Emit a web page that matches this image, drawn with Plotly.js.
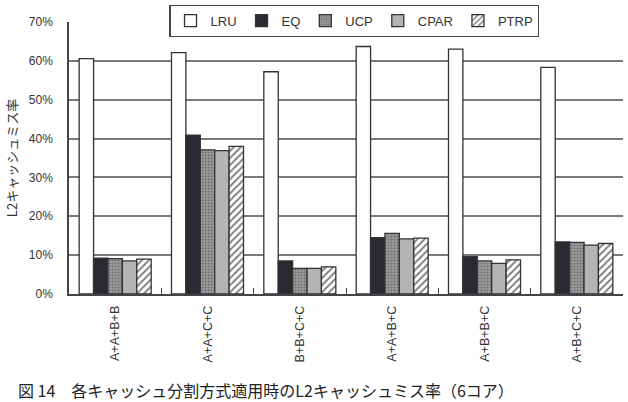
<!DOCTYPE html>
<html><head><meta charset="utf-8">
<script src="https://cdn.plot.ly/plotly-3.0.1.min.js"></script>
<style>html,body{margin:0;padding:0;background:#fff}#chart{width:628px;height:402px}</style>
</head><body><div id="chart"></div>
<script>
const categories = ["A+A+B+B","A+A+C+C","B+B+C+C","A+A+B+C","A+B+B+C","A+B+C+C"];
const LRU  = [60.6, 62.1, 57.2, 63.7, 63.0, 58.3];
const EQ   = [9.2, 40.9, 8.5, 14.5, 9.6, 13.4];
const UCP  = [9.1, 37.1, 6.6, 15.6, 8.5, 13.3];
const CPAR = [8.5, 36.9, 6.6, 14.2, 7.9, 12.6];
const PTRP = [9.0, 38.0, 7.0, 14.4, 8.8, 13.0];
const yTickVals = [0,10,20,30,40,50,60,70];
const yTickText = ["0%","10%","20%","30%","40%","50%","60%","70%"];
const yTitle = "L2キャッシュミス率";
const caption = "図 14　各キャッシュ分割方式適用時のL2キャッシュミス率（6コア）";

const line = {color:'#333333', width:1.3};
const traces = [
  {name:'LRU', y:LRU, marker:{color:'#ffffff', line:line}},
  {name:'EQ', y:EQ, marker:{color:'#2a2a32', line:line}},
  {name:'UCP', y:UCP, marker:{color:'#8c8c8c', line:line, pattern:{shape:'.', bgcolor:'#9c9c9c', fgcolor:'#6e6e6e', size:3, solidity:0.35}}},
  {name:'CPAR', y:CPAR, marker:{color:'#b4b4b4', line:line}},
  {name:'PTRP', y:PTRP, marker:{color:'#ffffff', line:line, pattern:{shape:'/', bgcolor:'#ffffff', fgcolor:'#7a7a7a', size:5, solidity:0.35}}}
].map(t => Object.assign({type:'bar', x:categories}, t));

const layout = {
  width:628, height:402,
  margin:{l:69, r:5, t:21, b:108},
  paper_bgcolor:'#fff', plot_bgcolor:'#fff',
  font:{family:'"Liberation Sans", Arial, "Noto Sans CJK JP", sans-serif', color:'#333', size:12},
  barmode:'group', bargap:0.22, bargroupgap:0,
  showlegend:true,
  legend:{orientation:'h', x:0.515, y:1.0, xanchor:'center', yanchor:'middle',
    bgcolor:'#fff', bordercolor:'#444', borderwidth:1.2,
    font:{size:13, color:'#333'}, itemwidth:30, tracegroupgap:0},
  xaxis:{type:'category', showline:true, linecolor:'#444', linewidth:1.5,
    ticks:'inside', tickson:'boundaries', ticklen:6, tickcolor:'#444', tickwidth:1.2,
    tickangle:-90, tickfont:{size:12.5, color:'#333'}, ticklabelstandoff:5, showgrid:false},
  yaxis:{range:[0,70], tickvals:yTickVals, ticktext:yTickText, showline:true, linecolor:'#444', linewidth:1.5,
    showgrid:true, gridcolor:'#7a7a7a', gridwidth:1.5, zeroline:false,
    tickfont:{size:12, color:'#333'}, ticklabelstandoff:12,
    title:{text:yTitle, font:{size:13, color:'#333', family:'"Noto Sans CJK JP", sans-serif'}, standoff:8}},
  annotations:[{text:caption, xref:'paper', yref:'paper', x:-0.095, y:-0.302, xanchor:'left', yanchor:'top',
    showarrow:false, font:{size:16, color:'#222', family:'"Noto Sans CJK JP", sans-serif'}}]
};
Plotly.newPlot('chart', traces, layout, {displayModeBar:false});
</script></body></html>
